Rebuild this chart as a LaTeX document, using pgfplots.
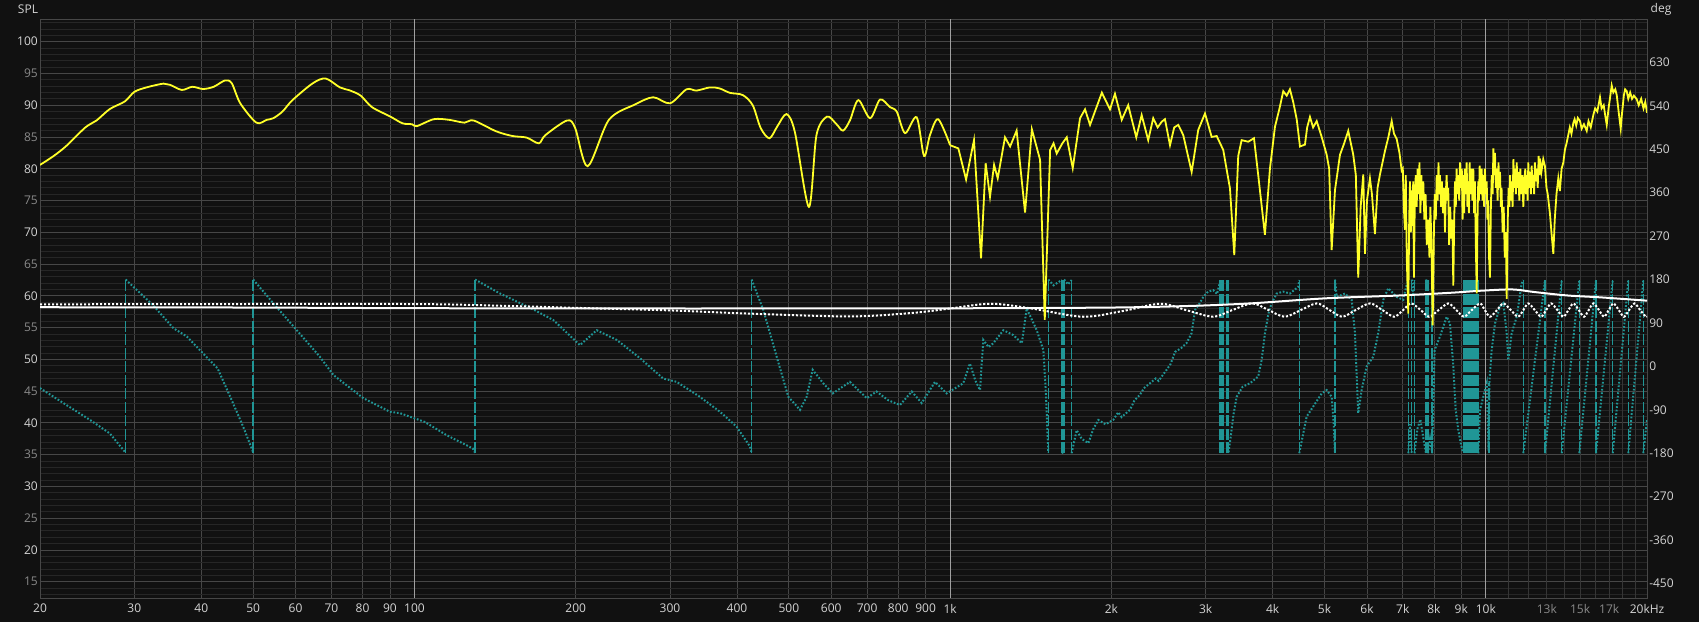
\documentclass[border=0pt]{standalone}
\usepackage{fontspec}
\setmainfont{Open Sans}
\usepackage{pgfplots}
\pgfplotsset{compat=1.18}
\definecolor{bg}{HTML}{111111}
\definecolor{gmaj}{HTML}{474747}
\definecolor{gmin}{HTML}{262626}
\definecolor{gsub}{HTML}{363636}
\definecolor{gdec}{HTML}{A0A0A0}
\definecolor{lab}{HTML}{D4D4D4}
\definecolor{dim}{HTML}{8A8A8A}
\definecolor{spl}{RGB}{255,255,40}
\definecolor{ph}{RGB}{32,150,150}
\begin{document}
\begin{tikzpicture}
\fill[bg] (0,0) rectangle (1699pt,622pt);
\useasboundingbox (0,0) rectangle (1699pt,622pt);
% ---------- grid axis (SPL) ----------
\begin{semilogxaxis}[scale only axis, width=1607pt, height=579pt, at={(40pt,24pt)}, anchor=south west,
  xmin=20, xmax=20000, ymin=12.43, ymax=103.57, major tick length=0pt, minor tick length=0pt,
  tick label style={font=\fontsize{12}{14}\selectfont, text=lab},
  axis line style={draw=gmaj, line width=0.8pt},
  xtick={20,30,40,50,60,70,80,90,100,200,300,400,500,600,700,800,900,1000,2000,3000,4000,5000,6000,7000,8000,9000,10000},
  xticklabels={20,30,40,50,60,70,80,90,100,200,300,400,500,600,700,800,900,1k,2k,3k,4k,5k,6k,7k,8k,9k,10k},
  extra x ticks={13000,15000,17000,20000},
  extra x tick labels={{\color{dim}13k},{\color{dim}15k},{\color{dim}17k},20kHz},
  extra x tick style={grid=none},
  xmajorgrids,
  ytick={15,20,25,30,35,40,45,50,55,60,65,70,75,80,85,90,95,100},
  yticklabels={{\color{dim}15},20,{\color{dim}25},30,{\color{dim}35},40,{\color{dim}45},50,{\color{dim}55},60,{\color{dim}65},70,{\color{dim}75},80,{\color{dim}85},90,{\color{dim}95},100},
  minor ytick={13,14,...,103},
  ymajorgrids, yminorgrids,
  major grid style={draw=gmaj, line width=0.8pt},
  minor grid style={draw=gmin, line width=0.8pt},
  xticklabel style={inner sep=1pt, yshift=-5pt},
  yticklabel style={inner sep=1pt, xshift=-1pt},
]
\addplot[draw=none] coordinates {(100,50)};
\end{semilogxaxis}
% ---------- phase axis ----------
\begin{semilogxaxis}[scale only axis, width=1607pt, height=579pt, at={(40pt,24pt)}, anchor=south west,
  xmin=20, xmax=20000, ymin=-480, ymax=720, major tick length=0pt, minor tick length=0pt,
  tick label style={font=\fontsize{12}{14}\selectfont, text=lab},
  axis line style={draw=none},
  xtick={100,1000,10000}, xticklabels={}, xmajorgrids,
  major grid style={draw=gdec, line width=0.8pt},
  minor xtick={11000,12000,13000,14000,15000,16000,17000,18000,19000}, xminorgrids,
  minor grid style={draw=gsub, line width=0.8pt},
  ytick={-450,-360,-270,-180,-90,0,90,180,270,360,450,540,630},
  yticklabels={-450,-360,-270,-180,-90,0,90,180,270,360,450,540,630},
  yticklabel pos=right,
  yticklabel style={anchor=west, inner sep=1pt, xshift=1pt},
  unbounded coords=jump]
% sloped parts (dotted)
\addplot[ph, line width=2pt, dash pattern=on 1.7pt off 1.8pt] coordinates {
(20,-45) (22.4,-80) (24.8,-111) (27,-139) (28.9,-179) (28.9,nan)
(28.9,180) (32.5,127) (35.5,79) (37.6,62) (40.3,27) (42.9,-4) (45.3,-63) (47.9,-125) (50,-178) (50,nan)
(50,180) (54.5,131) (60.3,75) (66.6,20) (70.6,-18) (80.3,-66) (90,-94) (94,-97) (104.5,-115) (114.6,-142) (128.5,-170) (129.8,-179) (129.8,nan)
(129.8,180) (144.5,151) (166.7,118) (181.7,96) (203.7,44) (218.9,75) (238.5,55) (263.7,17) (291.3,-25) (308.7,-32) (341,-63) (371.9,-94) (399.5,-125) (423,-166) (426,-179) (426,nan)
(426,180) (448,117) (474.5,20) (498.8,-63) (524.5,-90) (539.8,-63) (553.8,-7) (579.6,-35) (603.9,-56) (650,-32) (699,-66) (729,-52) (766,-70) (806,-80) (848,-52) (885,-76) (937,-32) (985,-56) (1058,-35) (1089,6) (1115,-30) (1137,-49) (1153,55) (1180,40) (1204,48) (1257,75) (1312,65) (1361,48) (1390,120) (1451,75) (1493,34) (1510,-60) (1525,-179) (1525,nan)
(1525,180) (1560,168) (1600,176) (1616,179) (1616,nan)
(1616,-180) (1632,-176) (1632,nan)
(1632,180) (1660,170) (1686,179) (1686,nan)
(1686,-180) (1723,-132) (1760,-150) (1812,-159) (1850,-130) (1891,-111) (1950,-120) (2016,-111) (2060,-95) (2090,-105) (2166,-90) (2210,-70) (2261,-59) (2300,-45) (2361,-35) (2420,-25) (2450,-30) (2536,-7) (2580,5) (2629,30) (2700,38) (2762,48) (2824,69) (2865,117) (2920,130) (2969,144) (3030,155) (3099,158) (3150,150) (3190,175) (3190,nan)
(3310,-178) (3340,-146) (3380,-100) (3427,-63) (3517,-42) (3629,-35) (3760,-21) (3816,13) (3870,68) (3930,110) (3983,131) (4070,151) (4187,155) (4309,151) (4466,165) (4485,179) (4485,nan)
(4485,-180) (4630,-104) (4763,-83) (4939,-56) (5046,-49) (5155,-63) (5200,-120) (5229,-179) (5229,nan)
(5229,180) (5270,144) (5458,151) (5618,138) (5698,69) (5779,-97) (5865,-49) (5993,0) (6165,20) (6298,69) (6436,138) (6575,162) (6818,144) (7014,138) (7100,165) (7166,179) (7166,nan)
(7166,-180) (7220,-120) (7272,-179) (7272,nan)
(7272,180) (7320,150) (7360,179) (7360,nan)
(7360,-180) (7450,-130) (7550,-110) (7650,-150) (7730,-179) (7730,nan)
(7730,180) (7765,172) (7800,179) (7800,nan)
(7800,-180) (7870,-150) (7940,-179) (7940,nan)
(7940,-180) (7990,-60) (8025,34) (8212,62) (8453,103) (8574,89) (8696,0) (8787,-90) (8884,-132) (9000,-165) (9077,-179) (9077,nan)
(9683,-180) (9754,-90) (9893,-63) (10039,-35) (10120,-175) (10160,-30) (10257,34) (10403,89) (10629,124) (10781,131) (10940,69) (11014,13) (11178,69) (11421,103) (11669,172) (11749,179) (11749,nan)
(11749,-180) (12898,179) (12898,nan)
(12898,-180) (13858,179) (13858,nan)
(13858,-180) (14947,179) (14947,nan)
(14947,-180) (16061,179) (16061,nan)
(16061,-180) (17256,179) (17256,nan)
(17256,-180) (18452,179) (18452,nan)
(18452,-180) (19682,179) (19682,nan)
(19682,-180) (20000,-110)
};
% wraps (dashed verticals)
\addplot[ph, line width=1.5pt, dash pattern=on 11pt off 2.5pt] coordinates {
(28.9,-180) (28.9,180) (28.9,nan)
(50,-180) (50,180) (50,nan)
(129.8,-180) (129.8,180) (129.8,nan)
(426,-180) (426,180) (426,nan)
(1525,-180) (1525,180) (1525,nan)
(1616,-180) (1616,180) (1616,nan)
(1632,-180) (1632,180) (1632,nan)
(1686,-180) (1686,180) (1686,nan)
(3190,-180) (3190,180) (3190,nan)
(3205,-180) (3205,180) (3205,nan)
(3222,-180) (3222,180) (3222,nan)
(3240,-180) (3240,180) (3240,nan)
(3290,-180) (3290,180) (3290,nan)
(3310,-180) (3310,180) (3310,nan)
(4485,-180) (4485,180) (4485,nan)
(5229,-180) (5229,180) (5229,nan)
(7166,-180) (7166,180) (7166,nan)
(7272,-180) (7272,180) (7272,nan)
(7360,-180) (7360,180) (7360,nan)
(7730,-180) (7730,180) (7730,nan)
(7800,-180) (7800,180) (7800,nan)
(7940,-180) (7940,180) (7940,nan)
(9077,-180) (9077,180) (9077,nan)
(9116,-180) (9116,180) (9116,nan)
(9155,-180) (9155,180) (9155,nan)
(9195,-180) (9195,180) (9195,nan)
(9234,-180) (9234,180) (9234,nan)
(9274,-180) (9274,180) (9274,nan)
(9314,-180) (9314,180) (9314,nan)
(9354,-180) (9354,180) (9354,nan)
(9395,-180) (9395,180) (9395,nan)
(9435,-180) (9435,180) (9435,nan)
(9476,-180) (9476,180) (9476,nan)
(9517,-180) (9517,180) (9517,nan)
(9558,-180) (9558,180) (9558,nan)
(9599,-180) (9599,180) (9599,nan)
(9641,-180) (9641,180) (9641,nan)
(9683,-180) (9683,180) (9683,nan)
(10140,-180) (10140,-35) (10140,nan)
(11749,-180) (11749,180) (11749,nan)
(12898,-180) (12898,180) (12898,nan)
(13858,-180) (13858,180) (13858,nan)
(14947,-180) (14947,180) (14947,nan)
(16061,-180) (16061,180) (16061,nan)
(17256,-180) (17256,180) (17256,nan)
(18452,-180) (18452,180) (18452,nan)
(19682,-180) (19682,180)
};
\end{semilogxaxis}
% ---------- SPL curves ----------
\begin{semilogxaxis}[scale only axis, width=1607pt, height=579pt, at={(40pt,24pt)}, anchor=south west,
  xmin=20, xmax=20000, ymin=12.43, ymax=103.57, hide axis]
% white solid
\addplot[white, line width=2pt, smooth] coordinates {
(20,58.2) (50,58.15) (100,58.05) (300,58.0) (1000,58.03) (2000,58.15) (2800,58.4) (3630,58.8) (5020,59.6) (6900,60.05) (8700,60.5) (9800,60.8) (11200,61.0) (12300,60.6) (14200,60.05) (16400,59.75) (20000,59.23)
};
% white dotted
\addplot[white, line width=2pt, dash pattern=on 2.2pt off 1.8pt, smooth] coordinates {
(20,58.65) (40,58.7) (100,58.7) (150,58.4) (200,58.1) (300,57.7) (420,57.2) (650,56.75) (850,57.3) (1000,58.0) (1190,58.75) (1420,58.0) (1770,56.7) (2100,57.6) (2470,58.75) (2770,57.7) (3099,56.7) (3350,57.7) (3665,58.8) (3920,57.8) (4210,56.7) (4500,57.7) (4834,58.8) (5100,57.8) (5390,56.7) (5700,57.7) (6078,58.8) (6400,57.8) (6740,56.7) (7000,57.7) (7250,58.8) (7550,57.8) (7840,56.7) (8150,57.7) (8510,58.8) (8800,57.8) (9100,56.7) (9400,57.7) (9754,58.8) (9950,57.8) (10180,56.7) (10480,57.7) (10781,58.8) (11120,57.8) (11480,56.7) (11740,57.7) (12003,58.8) (12330,57.8) (12680,56.7) (12950,57.7) (13240,58.8) (13590,57.8) (13954,56.7) (14250,57.7) (14567,58.8) (14900,57.8) (15250,56.7) (15550,57.7) (15875,58.8) (16250,57.8) (16620,56.7) (16950,57.7) (17300,58.8) (17700,57.8) (18100,56.7) (18500,57.7) (18950,58.8) (19400,57.8) (19900,56.7) (20000,56.8)
};
% yellow SPL low part
\addplot[spl, line width=1.8pt, smooth, tension=0.5] coordinates {
(20,80.6) (21.2,82.0) (22.4,83.6) (24.3,86.5) (25.5,87.6) (27.0,89.4) (28.8,90.6) (30,92.1) (31.6,92.8) (34.0,93.4) (35,93.2) (36.8,92.4) (38.5,92.9) (40.3,92.55) (42.2,92.9) (44.3,93.9) (45.6,93.45) (47.3,90.3) (50.7,87.25) (53.0,87.7) (54.5,87.95) (56.7,89.0) (59.2,90.8) (64.6,93.45) (68.3,94.2) (72.6,92.8) (75.9,92.3) (79.4,91.5) (83.3,89.7) (90.2,88.2) (95,87.15) (99,87.0) (101,86.7) (108.7,87.8) (116,87.7) (124,87.25) (128.9,87.6) (142,85.9) (152.4,85.15) (162,84.9) (170.7,84.0) (175.6,85.3) (192.8,87.6) (199.6,86.4) (210.6,80.4) (230.7,87.7) (257.8,90.1) (279,91.25) (300,90.3) (322,92.5) (336,92.3) (356,92.8) (371,92.65) (388,91.95) (410,91.6) (428,90.0) (443,86.4) (460,84.8) (476,86.7) (495,88.6) (513,85.8) (545,74.0) (563,85.3) (589,88.2) (613,87.05) (631,86.0) (650,87.6) (674,90.8) (709,87.95) (740,90.9) (772,89.7) (795,89.0) (824,85.6) (866,88.1) (894,82.0) (917,85.3) (950,87.8) (1000,83.7)
};
% yellow SPL high part
\addplot[spl, line width=1.8pt] coordinates {
(1000,83.7) (1036,83.2) (1071,78.3) (1108,84.5) (1142,65.9) (1165,80.85) (1187,75.6) (1208,80.6) (1227,78.5) (1266,84.95) (1294,83.5) (1331,86.0) (1380,73.1) (1421,86.2) (1472,81.4) (1502,56.2) (1537,82.95) (1560,84) (1581,82.4) (1620,84) (1651,84.95) (1694,80.1) (1748,87.95) (1786,89.35) (1825,86.9) (1920,91.97) (1988,89.35) (2031,91.8) (2091,87.7) (2150,90.0) (2226,84.95) (2278,88.45) (2343,84.5) (2394,87.95) (2440,86.5) (2483,87.4) (2518,87.8) (2573,83.7) (2620,86.5) (2666,86.9) (2724,85.3) (2824,79.5) (2905,86.1) (2991,88.7) (3078,85.0) (3145,85.15) (3235,82.95) (3330,76.9) (3392,66.4) (3450,82) (3501,84.5) (3602,84.25) (3692,84.8) (3760,79) (3870,69.6) (3954,80) (4040,86.6) (4120,89.5) (4187,92.2) (4250,91.5) (4309,92.5) (4370,90.5) (4436,87.8) (4499,83.5) (4596,83.8) (4640,86.5) (4696,88.15) (4760,86.5) (4834,87.5) (4939,85.0) (5046,82.2) (5100,80) (5155,67.2) (5229,76.6) (5343,82.2) (5440,84) (5536,85.96) (5657,82.2) (5720,79) (5779,62.85) (5840,74) (5906,79.1) (5949,66.6) (6000,75) (6078,78.5) (6130,76) (6210,69.7) (6280,77) (6345,79.1) (6483,82.8) (6580,85) (6673,87.5) (6740,85.5) (6818,84.7) (6900,82.5) (6966,79.7)
(7000,80) (7030,74) (7065,70.4) (7090,79) (7120,66) (7166,57.2) (7195,72) (7220,78) (7245,70) (7272,76.6) (7300,71) (7320,78) (7344,62.85) (7370,75) (7400,79) (7430,74) (7460,80) (7490,76) (7520,81) (7550,73) (7580,79) (7610,75) (7644,78) (7680,72) (7720,76) (7760,68) (7809,72) (7850,66) (7880,74) (7920,68) (7958,55.35) (8000,70) (8030,76) (8065,72) (8097,79) (8130,75) (8160,81) (8190,76) (8212,79) (8250,74) (8280,78) (8320,73) (8360,77) (8391,70) (8420,76) (8450,79) (8480,75) (8510,77) (8540,68) (8580,74) (8620,69) (8660,72) (8696,61.6) (8730,72) (8760,78) (8790,74) (8820,80) (8850,76) (8884,79) (8920,75) (8950,81) (8985,77) (9020,80) (9050,72) (9077,79) (9110,73) (9140,80) (9180,76) (9210,81) (9240,74) (9274,78) (9300,73) (9330,81) (9365,76) (9400,80) (9440,75) (9477,80) (9510,73) (9540,78) (9580,68) (9617,60.4) (9650,72) (9680,78) (9710,75) (9740,80.5) (9780,76) (9825,80) (9860,75) (9900,79) (9930,74) (9960,80) (10000,76) (10039,78) (10070,72) (10100,75) (10140,66) (10182,62.85) (10220,74) (10260,79) (10300,76) (10330,83.2) (10370,79) (10403,82.5) (10440,77) (10480,80) (10520,75) (10560,81) (10600,77) (10629,79.5) (10670,74) (10700,77) (10750,70) (10800,74) (10850,66) (10900,70) (10940,59.5) (10990,72) (11030,77) (11070,74) (11100,79) (11140,75) (11178,78) (11220,74) (11260,81.5) (11300,77) (11340,80) (11380,76) (11421,81) (11460,77) (11500,79.5) (11550,75) (11600,80) (11650,76) (11700,79) (11749,74) (11800,78) (11850,80) (11890,76) (11930,79) (11970,75) (12003,81) (12050,77) (12100,79.5) (12140,76) (12180,80.5) (12220,77) (12265,79) (12310,76) (12350,81) (12400,78) (12450,80) (12500,77) (12550,82) (12600,79) (12624,81.6) (12700,79.5) (12800,81.5) (12898,80.35) (12980,77) (13050,76) (13178,72.85) (13260,70) (13367,66.6) (13450,72) (13550,76) (13656,78.5) (13750,76.5) (13850,80) (13954,80.95) (14050,83) (14150,84) (14255,85.3) (14350,86.5) (14450,85.5) (14567,87.2) (14650,87.8) (14750,86.8) (14850,88) (14993,87.5) (15100,86.3) (15250,87) (15431,85.96) (15550,87.5) (15700,86.5) (15875,88.45) (16000,89.5) (16150,89) (16339,91.25) (16450,89.5) (16600,90) (16700,88.5) (16817,86.9) (16950,89.5) (17080,91.5) (17182,93.1) (17300,92) (17450,92.5) (17557,91.6) (17700,89) (17860,86.3) (17950,88.5) (18100,91.5) (18200,92.5) (18328,92.2) (18450,91) (18600,92) (18750,91) (18900,91.5) (19133,90.95) (19300,90) (19500,91) (19700,89.5) (19850,90.5) (20000,88.8)
};
\end{semilogxaxis}
\node[text=lab, font=\fontsize{12}{14}\selectfont] at (28pt,613pt) {SPL};
\node[text=lab, font=\fontsize{12}{14}\selectfont] at (1661pt,613pt) {deg};
\end{tikzpicture}
\end{document}
